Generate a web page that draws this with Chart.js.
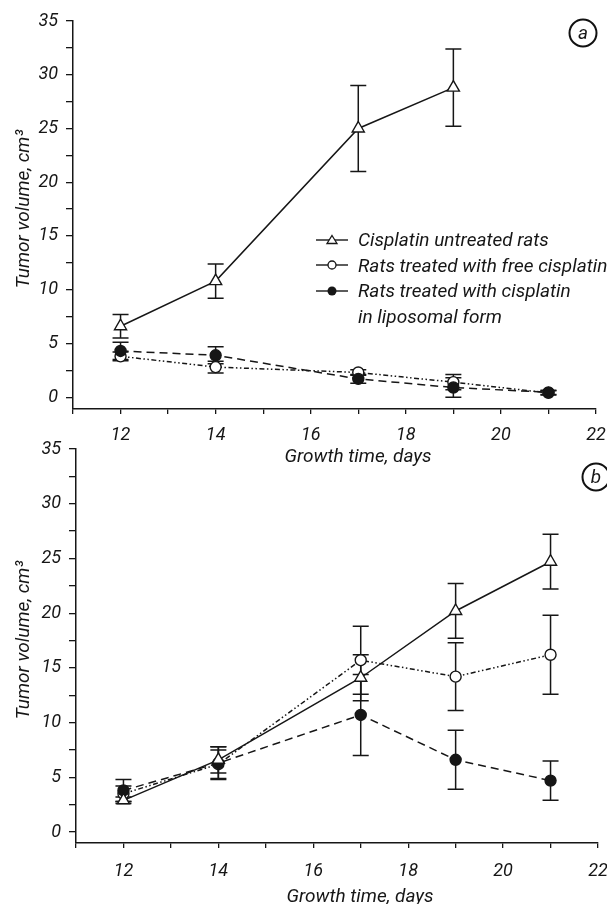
<!DOCTYPE html>
<html>
<head>
<meta charset="utf-8">
<script src="https://cdn.jsdelivr.net/npm/chart.js"></script>
<style>
  body { margin: 0; background: #fff; }
  #wrap { position: relative; width: 607px; height: 904px; overflow: hidden;
          font-family: Roboto, "Liberation Sans", sans-serif;
          font-style: italic; color: #161616; }
  canvas { position: absolute; left: 0; }
  .title { position: absolute; font-size: 19px; white-space: nowrap;
           transform: translate(-50%, -50%); }
  .ytitle { transform: translate(-50%, -50%) rotate(-90deg); }
  .tag { position: absolute; width: 25px; height: 25px; border: 2px solid #111;
         border-radius: 50%; text-align: center; line-height: 24px; font-size: 19px;
         transform: translate(-50%, -50%); }
  #legend { position: absolute; left: 316px; top: 227px; font-size: 19px; }
  #legend .row { height: 25.5px; display: flex; align-items: center; white-space: nowrap; }
  #legend svg { width: 32px; height: 16px; margin-right: 10px; flex: none; }
  #legend .cont { padding-left: 42px; }
</style>
</head>
<body>
<div id="wrap">
  <canvas id="chartA" width="607" height="445" style="top:0"></canvas>
  <canvas id="chartB" width="607" height="464" style="top:440px"></canvas>

  <div class="title ytitle" style="left:22px; top:209px">Tumor volume, cm³</div>
  <div class="title" style="left:358px; top:455px">Growth time, days</div>
  <div class="title ytitle" style="left:22px; top:640px">Tumor volume, cm³</div>
  <div class="title" style="left:360px; top:895px">Growth time, days</div>

  <div class="tag" style="left:583px; top:33px">a</div>
  <div class="tag" style="left:596px; top:477px">b</div>

  <div id="legend">
    <div class="row"><svg viewBox="0 0 32 16"><line x1="0" y1="8" x2="32" y2="8" stroke="#161616" stroke-width="1.4"/><polygon points="16,3.5 21,11.5 11,11.5" fill="#fff" stroke="#161616" stroke-width="1.3"/></svg>Cisplatin untreated rats</div>
    <div class="row"><svg viewBox="0 0 32 16"><line x1="0" y1="8" x2="32" y2="8" stroke="#161616" stroke-width="1.4"/><circle cx="16" cy="8" r="4" fill="#fff" stroke="#161616" stroke-width="1.3"/></svg>Rats treated with free cisplatin</div>
    <div class="row"><svg viewBox="0 0 32 16"><line x1="0" y1="8" x2="32" y2="8" stroke="#161616" stroke-width="1.4"/><circle cx="16" cy="8" r="4.5" fill="#161616"/></svg>Rats treated with cisplatin</div>
    <div class="row cont">in liposomal form</div>
  </div>
</div>
<script>
const days = [12, 14, 17, 19, 21];

// panel a
const aUntreated    = [6.6, 10.8, 25.0, 28.8, null];
const aUntreatedErr = [1.1, 1.6, 4.0, 3.6, 0];
const aFree         = [3.8, 2.8, 2.3, 1.4, 0.4];
const aFreeErr      = [0.4, 0.55, 0.25, 0.7, 0.2];
const aLipo         = [4.3, 3.9, 1.7, 0.9, 0.45];
const aLipoErr      = [0.8, 0.8, 0.4, 0.9, 0.2];

// panel b
const bUntreated    = [2.9, 6.6, 14.1, 20.2, 24.7];
const bUntreatedErr = [0.3, 1.2, 2.1, 2.5, 2.5];
const bFree         = [3.5, 6.2, 15.7, 14.2, 16.2];
const bFreeErr      = [0.7, 1.3, 3.1, 3.1, 3.6];
const bLipo         = [3.8, 6.3, 10.7, 6.6, 4.7];
const bLipoErr      = [1.0, 1.5, 3.7, 2.7, 1.8];

const xTickValues = [11, 12, 13, 14, 15, 16, 17, 18, 19, 20, 21, 22];
const xTickLabels = ['', '12', '', '14', '', '16', '', '18', '', '20', '', '22'];
const yTickValues = [0, 2.5, 5, 7.5, 10, 12.5, 15, 17.5, 20, 22.5, 25, 27.5, 30, 32.5, 35];
const yTickLabels = ['0', '', '5', '', '10', '', '15', '', '20', '', '25', '', '30', '', '35'];

const INK = '#161616';
const tickFont = { family: 'Roboto, "Liberation Sans", sans-serif', size: 18, style: 'italic' };

const errorBars = {
  id: 'errorBars',
  beforeDatasetsDraw(chart) {
    const { ctx, scales: { x, y } } = chart;
    ctx.save();
    ctx.strokeStyle = INK;
    ctx.lineWidth = 1.5;
    chart.data.datasets.forEach(ds => {
      ds.data.forEach((p, i) => {
        if (p.y == null || !ds.err[i]) return;
        const px = x.getPixelForValue(p.x);
        const top = y.getPixelForValue(p.y + ds.err[i]);
        const bot = y.getPixelForValue(p.y - ds.err[i]);
        ctx.beginPath();
        ctx.moveTo(px, top); ctx.lineTo(px, bot);
        ctx.moveTo(px - 8, top); ctx.lineTo(px + 8, top);
        ctx.moveTo(px - 8, bot); ctx.lineTo(px + 8, bot);
        ctx.stroke();
      });
    });
    ctx.restore();
  }
};

function pts(vals) {
  return days.map((d, i) => ({ x: d, y: vals[i] }));
}

function series(untreated, untreatedErr, free, freeErr, lipo, lipoErr) {
  const common = { showLine: true, borderColor: INK, borderWidth: 1.5, pointBorderColor: INK,
                   pointBorderWidth: 1.4, clip: false, spanGaps: false };
  return [
    Object.assign({}, common, { label: 'Cisplatin untreated rats', data: pts(untreated), err: untreatedErr,
      pointStyle: 'triangle', pointRadius: 7, pointBackgroundColor: '#fff' }),
    Object.assign({}, common, { label: 'Rats treated with cisplatin in liposomal form', data: pts(lipo), err: lipoErr,
      borderDash: [8, 5], pointStyle: 'circle', pointRadius: 5.5, pointBackgroundColor: INK }),
    Object.assign({}, common, { label: 'Rats treated with free cisplatin', data: pts(free), err: freeErr,
      borderDash: [5, 2.5, 1.5, 2.5, 1.5, 2.5], pointStyle: 'circle', pointRadius: 5.5, pointBackgroundColor: '#fff' })
  ];
}

function makeChart(id, datasets, box) {
  new Chart(document.getElementById(id), {
    type: 'scatter',
    data: { datasets },
    plugins: [errorBars],
    options: {
      responsive: false,
      animation: false,
      devicePixelRatio: 1,
      layout: { padding: { left: 0, top: box.top, right: box.right, bottom: 0 } },
      plugins: { legend: { display: false }, tooltip: { enabled: false } },
      scales: {
        x: {
          type: 'linear', min: 11, max: 22,
          afterBuildTicks: s => { s.ticks = xTickValues.map(v => ({ value: v })); },
          afterFit: s => { s.height = box.xh; s.paddingLeft = 0; s.paddingRight = 0; },
          ticks: { color: INK, font: tickFont, padding: box.xpad, maxRotation: 0, autoSkip: false,
                   callback: (v, i) => xTickLabels[i] },
          grid: { drawOnChartArea: false, color: INK, tickLength: 5, lineWidth: 1.3 },
          border: { color: INK, width: 1.5 }
        },
        y: {
          min: box.ymin, max: 35,
          afterBuildTicks: s => { s.ticks = yTickValues.map(v => ({ value: v })); },
          afterFit: s => { s.width = box.left; s.paddingTop = 0; s.paddingBottom = 0; },
          ticks: { color: INK, font: tickFont, padding: 8, autoSkip: false,
                   callback: (v, i) => yTickLabels[i] },
          grid: { drawOnChartArea: false, color: INK, tickLength: 7, lineWidth: 1.3 },
          border: { color: INK, width: 1.5 }
        }
      }
    }
  });
}

makeChart('chartA', series(aUntreated, aUntreatedErr, aFree, aFreeErr, aLipo, aLipoErr),
  { top: 21, right: 11, left: 73, xh: 36, ymin: -1.1, xpad: 11 });
makeChart('chartB', series(bUntreated, bUntreatedErr, bFree, bFreeErr, bLipo, bLipoErr),
  { top: 9, right: 9, left: 76, xh: 61, ymin: -1.0, xpad: 13 });
</script>
</body>
</html>
